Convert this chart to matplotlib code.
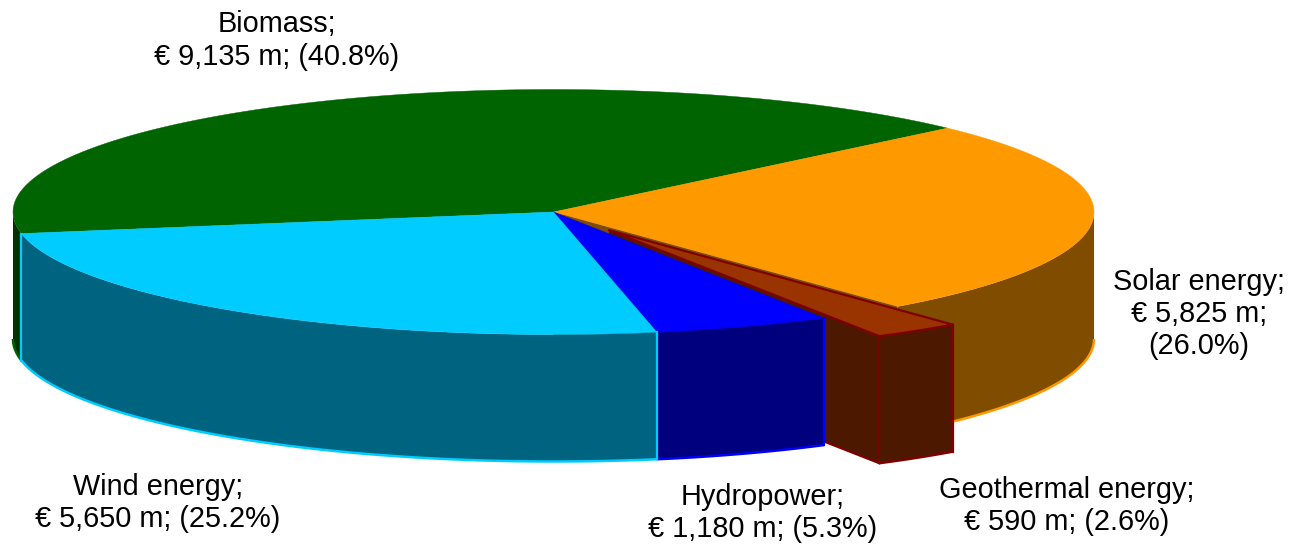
from __future__ import annotations

from itertools import count

import matplotlib
matplotlib.use("Agg")
import matplotlib.pyplot as plt
import numpy as np


SOURCES = ["Biomass", "Solar energy", "Geothermal energy", "Hydropower", "Wind energy"]
VALUES = [9135, 5825, 590, 1180, 5650]

TOP_COLORS = ["#006400", "#FF9900", "#993300", "#0000FF", "#00CCFF"]
WALL_COLORS = ["#003200", "#7F4C00", "#4C1900", "#00007F", "#006480"]
EDGE_COLORS = ["#006400", "#FF9900", "#800000", "#0000FF", "#00CCFF"]

CENTER_X, CENTER_Y = 553.5, 212.0
RADIUS_X, RADIUS_Y = 540.5, 122.5
DEPTH = 127.0
START_ANGLE = 43.2
EXPLODE = 0.18

# painter's order: lines and patches must stack in the order they are drawn
ORDER = count(1)


def _wedge_angles() -> list[tuple[float, float]]:
    # clockwise from the biomass/solar seam; biomass comes last going round
    total = sum(VALUES)
    sweeps = [v / total * 360 for v in VALUES]
    out = []
    high = START_ANGLE + sweeps[0]
    for sweep in sweeps:
        out.append((high, high - sweep))
        high -= sweep
    return out


def _rim(a_from: float, a_to: float, cx: float, cy: float) -> np.ndarray:
    t = np.radians(np.linspace(a_from, a_to, 120))
    return np.column_stack([cx + RADIUS_X * np.cos(t), cy - RADIUS_Y * np.sin(t)])


def _draw_top(ax, a_from, a_to, cx, cy, idx, edge=False):
    pts = np.vstack([[cx, cy], _rim(a_from, a_to, cx, cy)])
    ax.fill(pts[:, 0], pts[:, 1], facecolor=TOP_COLORS[idx],
            edgecolor=EDGE_COLORS[idx] if edge else TOP_COLORS[idx],
            linewidth=1.6 if edge else 0.3, joinstyle="round", zorder=next(ORDER))


def _draw_wall(ax, a_from, a_to, cx, cy, idx):
    rim = _rim(a_from, a_to, cx, cy)
    low = rim[::-1] + [0, DEPTH]
    pts = np.vstack([rim, low])
    ax.fill(pts[:, 0], pts[:, 1], facecolor=WALL_COLORS[idx], edgecolor="none", zorder=next(ORDER))
    ax.plot(low[:, 0], low[:, 1], color=EDGE_COLORS[idx], linewidth=1.8,
            solid_capstyle="butt", zorder=next(ORDER))


def _draw_drop(ax, angle, cx, cy, idx):
    # vertical seam of a wall at the given rim angle
    edge = _rim(angle, angle, cx, cy)[0]
    ax.plot([edge[0], edge[0]], [edge[1], edge[1] + DEPTH], color=EDGE_COLORS[idx],
            linewidth=1.6, zorder=next(ORDER))


def _draw_radial_face(ax, angle, cx, cy, idx):
    end = _rim(angle, angle, cx, cy)[0]
    xs = [cx, end[0], end[0], cx]
    ys = [cy, end[1], end[1] + DEPTH, cy + DEPTH]
    ax.fill(xs, ys, facecolor=WALL_COLORS[idx], edgecolor="none", zorder=next(ORDER))


def _labels(ax) -> None:
    total = sum(VALUES)
    lines = [f"€ {v:,} m; ({v / total * 100:.1f}%)" for v in VALUES]
    style = dict(ha="center", va="center", fontsize=20.8, linespacing=1.2, color="black", zorder=next(ORDER))
    ax.text(277, 40.5, f"{SOURCES[0]};\n{lines[0]}", **style)
    amount, share = lines[1].split("; ")
    ax.text(1199, 314, f"{SOURCES[1]};\n{amount};\n{share}", **style)
    ax.text(1067, 506, f"{SOURCES[2]};\n{lines[2]}", **style)
    ax.text(763, 513, f"{SOURCES[3]};\n{lines[3]}", **style)
    ax.text(158, 503, f"{SOURCES[4]};\n{lines[4]}", **style)


def main() -> None:
    plt.rcParams["font.family"] = ["Liberation Sans", "DejaVu Sans"]
    fig = plt.figure(figsize=(12.91, 5.44), dpi=100)
    ax = fig.add_axes([0, 0, 1, 1])
    ax.set_xlim(0, 1291)
    ax.set_ylim(544, 0)
    ax.axis("off")

    biomass, solar, geo, hydro, wind = _wedge_angles()

    mid = np.radians((geo[0] + geo[1]) / 2)
    geo_x = CENTER_X + EXPLODE * RADIUS_X * np.cos(mid)
    geo_y = CENTER_Y - EXPLODE * RADIUS_Y * np.sin(mid)

    # back to front
    _draw_wall(ax, 180, biomass[0], CENTER_X, CENTER_Y, 0)
    _draw_wall(ax, 0, solar[1], CENTER_X, CENTER_Y, 1)
    _draw_top(ax, biomass[0], biomass[1], CENTER_X, CENTER_Y, 0)
    _draw_top(ax, solar[0], solar[1], CENTER_X, CENTER_Y, 1)
    _draw_radial_face(ax, solar[1], CENTER_X, CENTER_Y, 1)

    _draw_radial_face(ax, geo[1], geo_x, geo_y, 2)
    low = _rim(geo[1], geo[1], geo_x, geo_y)[0] + [0, DEPTH]
    ax.plot([geo_x, low[0]], [geo_y + DEPTH, low[1]], color=EDGE_COLORS[2], linewidth=1.6, zorder=next(ORDER))
    _draw_wall(ax, geo[0], geo[1], geo_x, geo_y, 2)
    _draw_drop(ax, geo[0], geo_x, geo_y, 2)
    _draw_drop(ax, geo[1], geo_x, geo_y, 2)
    _draw_top(ax, geo[0], geo[1], geo_x, geo_y, 2, edge=True)

    _draw_wall(ax, hydro[0], hydro[1], CENTER_X, CENTER_Y, 3)
    _draw_drop(ax, hydro[0], CENTER_X, CENTER_Y, 3)
    _draw_top(ax, hydro[0], hydro[1], CENTER_X, CENTER_Y, 3)

    _draw_wall(ax, wind[0], wind[1], CENTER_X, CENTER_Y, 4)
    _draw_drop(ax, wind[0], CENTER_X, CENTER_Y, 4)
    _draw_drop(ax, wind[1], CENTER_X, CENTER_Y, 4)
    _draw_top(ax, wind[0], wind[1], CENTER_X, CENTER_Y, 4)

    _labels(ax)
    fig.savefig("out.png", dpi=100)
    plt.close(fig)


if __name__ == "__main__":
    main()
